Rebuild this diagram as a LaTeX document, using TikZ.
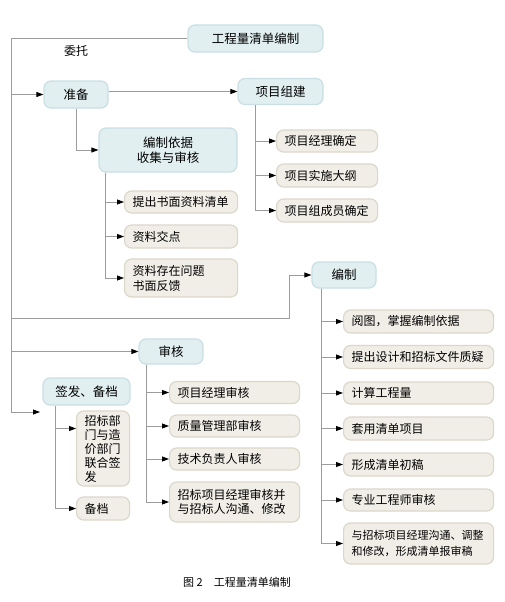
\documentclass[tikz,border=0pt]{standalone}
\usepackage{fontspec}
\setmainfont{Noto Sans CJK SC}
\usetikzlibrary{arrows.meta}
\definecolor{boxblue}{HTML}{E2EFF1}
\definecolor{edgeblue}{HTML}{C9DFE3}
\definecolor{boxgrey}{HTML}{F1EEE7}
\definecolor{edgegrey}{HTML}{DCD7CB}
\definecolor{linegrey}{HTML}{9C9C9C}
\begin{document}
\begin{tikzpicture}[x=1pt,y=-1pt,
 bluebox/.style={draw=edgeblue,fill=boxblue,line width=1.2pt,rounded corners=7pt,align=center,inner sep=0pt,font=\fontsize{12.5}{15}\selectfont},
 greybox/.style={draw=edgegrey,fill=boxgrey,line width=1.2pt,rounded corners=7pt,anchor=west,align=left,inner xsep=8pt,inner ysep=0pt,text width=#1,font=\fontsize{12}{15}\selectfont},
 link/.style={draw=linegrey,line width=.8pt},
 tip/.style={link,-{Triangle[length=7pt,width=5pt,color=black]}}]
\fill[white] (0,0) rectangle (505,602);
\node[bluebox,minimum width=135,minimum height=27] (root) at (255.5,38.5) {工程量清单编制};
\node[font=\fontsize{12}{14}\selectfont] (entrust) at (76,51) {委托};
\node[bluebox,minimum width=64,minimum height=27] (prep) at (76,94.5) {准备};
\node[bluebox,minimum width=85,minimum height=26] (team) at (280.5,91.5) {项目组建};
\node[bluebox,minimum width=138,minimum height=44] (basis) at (168,150) {编制依据\\收集与审核};
\node[bluebox,minimum width=64,minimum height=26] (compile) at (344,275) {编制};
\node[bluebox,minimum width=64,minimum height=25] (review) at (171,351.5) {审核};
\node[bluebox,minimum width=87,minimum height=27] (sign) at (86.5,391.5) {签发、备档};
% project team
\node[greybox=85,minimum height=22] (tm1) at (276,141) {项目经理确定};
\node[greybox=85,minimum height=23] (tm2) at (276,175.5) {项目实施大纲};
\node[greybox=85,minimum height=23] (tm3) at (276,210.5) {项目组成员确定};
% basis
\node[greybox=97,minimum height=22] (bs1) at (124,202) {提出书面资料清单};
\node[greybox=97,minimum height=23] (bs2) at (124,236.5) {资料交点};
\node[greybox=97,minimum height=38] (bs3) at (124,278) {资料存在问题\\书面反馈};
% compile
\node[greybox=134,minimum height=23] (cp1) at (343,321.5) {阅图，掌握编制依据};
\node[greybox=134,minimum height=23] (cp2) at (343,357) {提出设计和招标文件质疑};
\node[greybox=134,minimum height=22] (cp3) at (343,393) {计算工程量};
\node[greybox=134,minimum height=23] (cp4) at (343,428.5) {套用清单项目};
\node[greybox=134,minimum height=23] (cp5) at (343,464.5) {形成清单初稿};
\node[greybox=134,minimum height=22] (cp6) at (343,500) {专业工程师审核};
\node[greybox=134,minimum height=41,font=\fontsize{11}{16}\selectfont] (cp7) at (343,543.5) {与招标项目经理沟通、调整\\和修改，形成清单报审稿};
% review
\node[greybox=114,minimum height=22] (rv1) at (169,392.5) {项目经理审核};
\node[greybox=114,minimum height=22] (rv2) at (169,426) {质量管理部审核};
\node[greybox=114,minimum height=22] (rv3) at (169,459) {技术负责人审核};
\node[greybox=114,minimum height=40,font=\fontsize{12}{14}\selectfont] (rv4) at (169,502) {招标项目经理审核并\\与招标人沟通、修改};
% sign
\node[greybox=37,minimum height=75,font=\fontsize{12}{14}\selectfont] (sg1) at (76,448.5) {招标部\\门与造\\价部门\\联合签\\发};
\node[greybox=37,minimum height=23] (sg2) at (76,508.5) {备档};
\node[font=\fontsize{11}{13}\selectfont] (caption) at (237,582) {图 2\quad 工程量清单编制};
% connectors
\coordinate (trunktop) at (11,38.5); \coordinate (trunkend) at (11,412); \coordinate (signin) at (40,412);
\coordinate (cpturn) at (289,318);
\coordinate (teambus) at ([xshift=-25.5pt]team.south); \coordinate (basisbus) at ([xshift=7pt]basis.south west);
\coordinate (cpbus) at ([xshift=10pt]compile.south west); \coordinate (rvbus) at ([xshift=8pt]review.south west);
\coordinate (sgbus) at ([xshift=13pt]sign.south west);
\draw[link] (root.west) -- (trunktop) -- (trunkend);
\draw[tip] (trunkend) -- (signin);
\draw[tip] (trunktop |- prep) -- (prep.west);
\draw[tip] (prep.east |- team.west) -- (team.west);
\draw[tip] (prep.south) |- (basis.west);
\draw[tip] (trunktop |- cpturn) -- (cpturn) |- (compile.west);
\draw[tip] (trunktop |- review) -- (review.west);
\foreach \k in {tm1,tm2,tm3} \draw[tip] (teambus) |- (\k.west);
\foreach \k in {bs1,bs2,bs3} \draw[tip] (basisbus) |- (\k.west);
\foreach \k in {cp1,cp2,cp3,cp4,cp5,cp6,cp7} \draw[tip] (cpbus) |- (\k.west);
\foreach \k in {rv1,rv2,rv3,rv4} \draw[tip] (rvbus) |- (\k.west);
\draw[tip] (sgbus) |- ([yshift=20pt]sg1.west); \draw[tip] (sgbus) |- (sg2.west);
\end{tikzpicture}
\end{document}
